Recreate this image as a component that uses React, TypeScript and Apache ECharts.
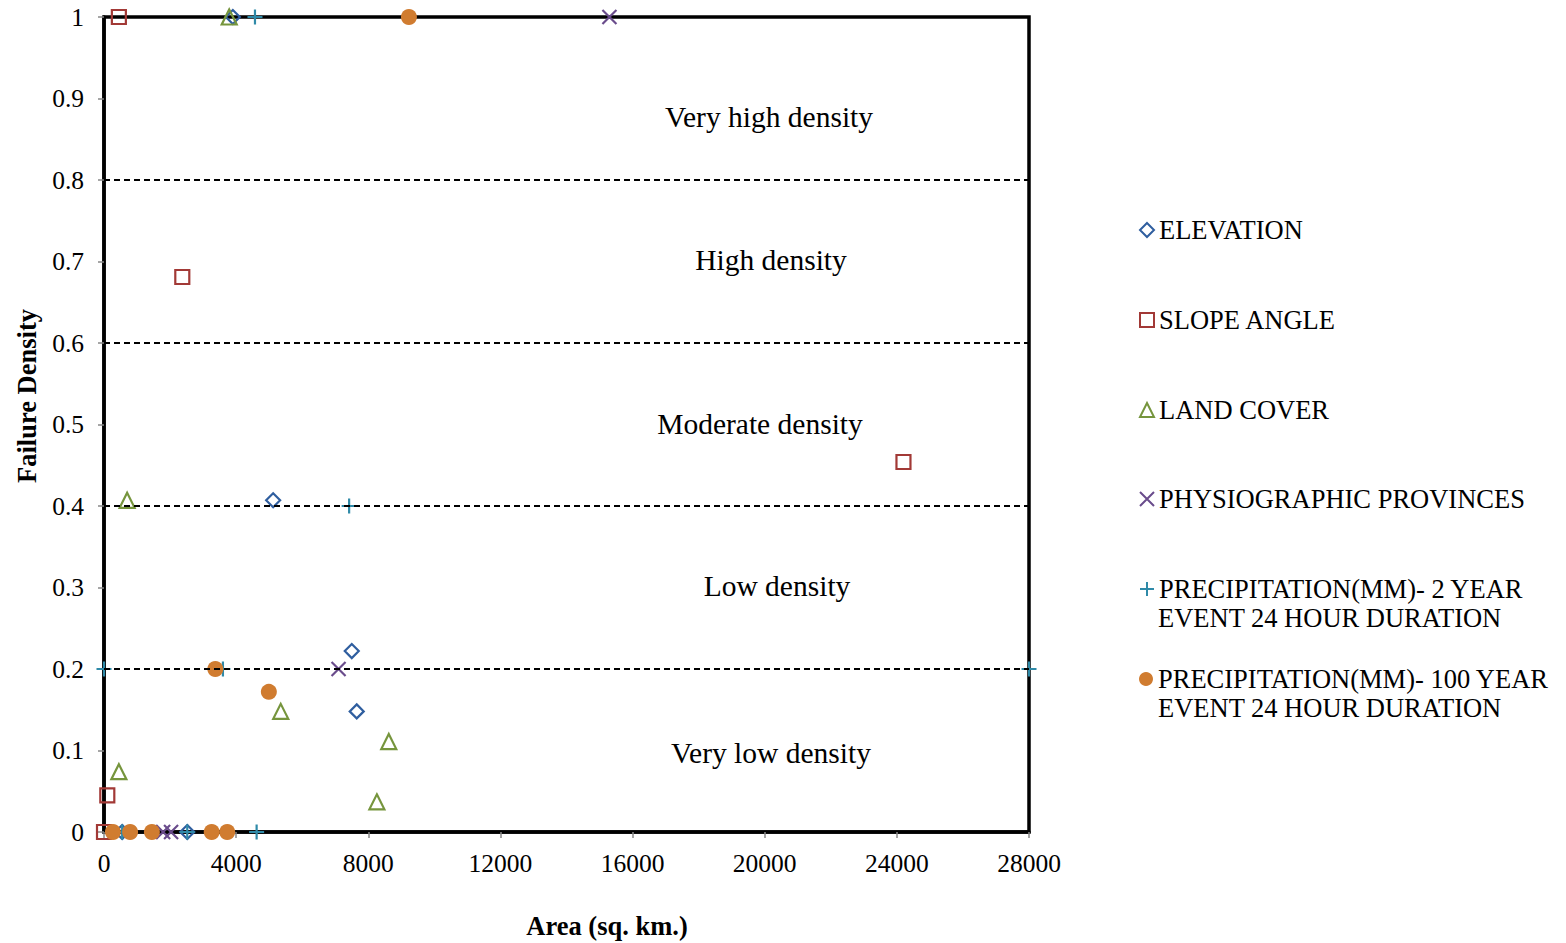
import React, { useEffect, useRef } from "react";
import * as echarts from "echarts";

const elevation: number[][] = [
  [3900, 1], [5120, 0.407], [7500, 0.222], [7650, 0.148], [2520, 0], [550, 0],
];
const slopeAngle: number[][] = [
  [450, 1], [2370, 0.681], [24200, 0.454], [100, 0.045], [0, 0],
];
const landCover: number[][] = [
  [3790, 1], [700, 0.407], [5350, 0.148], [8620, 0.111], [8260, 0.037], [450, 0.074],
];
const physiographic: number[][] = [
  [15300, 1], [7100, 0.2], [1790, 0], [2030, 0],
];
const precip2yr: number[][] = [
  [4570, 1], [7420, 0.4], [0, 0.2], [28000, 0.2], [3600, 0.2], [4620, 0], [2520, 0], [550, 0],
];
const precip100yr: number[][] = [
  [9230, 1], [3370, 0.2], [4990, 0.172], [270, 0], [790, 0], [1450, 0], [3260, 0], [3730, 0],
];
const densityLines: number[] = [0.2, 0.4, 0.6, 0.8];
const regionLabels: string[] = [
  "Very high density", "High density", "Moderate density", "Low density", "Very low density",
];
const seriesNames: string[] = [
  "ELEVATION",
  "SLOPE ANGLE",
  "LAND COVER",
  "PHYSIOGRAPHIC PROVINCES",
  "PRECIPITATION(MM)- 2 YEAR EVENT 24 HOUR DURATION",
  "PRECIPITATION(MM)- 100 YEAR EVENT 24 HOUR DURATION",
];

const SERIF = "Liberation Serif";

export default function App() {
  const ref = useRef<HTMLDivElement>(null);
  useEffect(() => {
    if (!ref.current) return;
    const chart = echarts.init(ref.current, undefined, { renderer: "svg" });
    const hollow = (c: string, w = 2.2) => ({ color: "rgba(0,0,0,0)", borderColor: c, borderWidth: w, opacity: 1 });
    const legendCenters = [230, 320, 410, 499, 589, 679];
    const legends = seriesNames.map((n, i) => ({
      show: true,
      orient: "vertical",
      left: 1139,
      top: legendCenters[i] - 15,
      padding: 0,
      itemWidth: 14,
      itemHeight: 14,
      itemGap: 0,
      data: [n],
      selectedMode: false,
      formatter: (name: string) => name.split(" EVENT")[0],
      textStyle: {
        fontFamily: SERIF,
        fontSize: 26.5,
        color: "#000",
        lineHeight: 30,
      },
    }));
    const secondLines = seriesNames
      .map((n, i) => ({ n, i }))
      .filter((o) => o.n.indexOf(" EVENT") >= 0)
      .map((o) => ({
        type: "text",
        x: 1158,
        y: legendCenters[o.i] + 29,
        style: {
          text: "EVENT" + o.n.split(" EVENT")[1],
          fontFamily: SERIF, fontSize: 26.5, fill: "#000",
          align: "left", verticalAlign: "middle",
        },
      }));
    const regionY = [117, 260, 424, 586, 753];
    const regionX = [769, 771, 760, 777, 771];
    chart.setOption({
      animation: false,
      backgroundColor: "#fff",
      grid: {
        left: 104, right: 537, top: 17, bottom: 111,
        show: true, borderColor: "#000", borderWidth: 3.5,
      },
      legend: legends,
      xAxis: {
        type: "value", min: 0, max: 28000, interval: 4000,
        axisLine: { show: true, onZero: false, lineStyle: { color: "#000", width: 3.5 } },
        axisTick: { show: true, length: 6, lineStyle: { color: "#888", width: 1.5 } },
        axisLabel: {
          fontFamily: SERIF, fontSize: 25.5, color: "#000", margin: 18,
          formatter: (v: number) => String(v),
        },
        splitLine: { show: false },
      },
      yAxis: {
        type: "value", min: 0, max: 1, interval: 0.1,
        axisLine: { show: true, onZero: false, lineStyle: { color: "#000", width: 3.5 } },
        axisTick: { show: true, length: 6, lineStyle: { color: "#888", width: 1.5 } },
        axisLabel: {
          fontFamily: SERIF, fontSize: 25.5, color: "#000", margin: 20,
          formatter: (v: number) => String(Math.round(v * 10) / 10),
        },
        splitLine: { show: false },
      },
      graphic: [
        ...regionLabels.map((t, i) => ({
          type: "text",
          x: regionX[i], y: regionY[i],
          style: {
            text: t, fontFamily: SERIF, fontSize: 29.5, fill: "#000",
            align: "center", verticalAlign: "middle",
          },
        })),
        ...secondLines,
        {
          type: "text", x: 27, y: 396, rotation: Math.PI / 2,
          style: {
            text: "Failure Density", fontFamily: SERIF, fontSize: 26.5, fontWeight: "bold",
            fill: "#000", align: "center", verticalAlign: "middle",
          },
        },
        {
          type: "text", x: 607, y: 926,
          style: {
            text: "Area (sq. km.)", fontFamily: SERIF, fontSize: 26.5, fontWeight: "bold",
            fill: "#000", align: "center", verticalAlign: "middle",
          },
        },
      ],
      series: [
        {
          name: seriesNames[0], type: "scatter", data: elevation, symbol: "diamond", symbolSize: 14,
          itemStyle: hollow("#2F5E9F"), z: 3,
          markLine: {
            silent: true, symbol: "none",
            label: { show: false },
            lineStyle: { color: "#000", width: 2.2, type: [6, 4] },
            data: densityLines.map((v) => ({ yAxis: v })),
          },
        },
        {
          name: seriesNames[1], type: "scatter", data: slopeAngle, symbol: "rect", symbolSize: 14,
          itemStyle: hollow("#A23936"), z: 3,
        },
        {
          name: seriesNames[2], type: "scatter", data: landCover, symbol: "triangle", symbolSize: 15,
          itemStyle: hollow("#76953D"), z: 3,
        },
        {
          name: seriesNames[3], type: "scatter", data: physiographic,
          symbol: "path://M0,0L10,10M0,10L10,0", symbolSize: 14,
          itemStyle: hollow("#6A4C8C"), z: 3,
        },
        {
          name: seriesNames[4], type: "scatter", data: precip2yr,
          symbol: "path://M5,0L5,10M0,5L10,5", symbolSize: 15,
          itemStyle: hollow("#2F8AA8"), z: 3,
        },
        {
          name: seriesNames[5], type: "scatter", data: precip100yr, symbol: "circle", symbolSize: 16,
          itemStyle: { color: "#D07C30", opacity: 1 }, z: 4,
        },
      ],
    });
    return () => chart.dispose();
  }, []);
  return <div ref={ref} style={{ position: "fixed", left: 0, top: 0, width: 1566, height: 943 }} />;
}
